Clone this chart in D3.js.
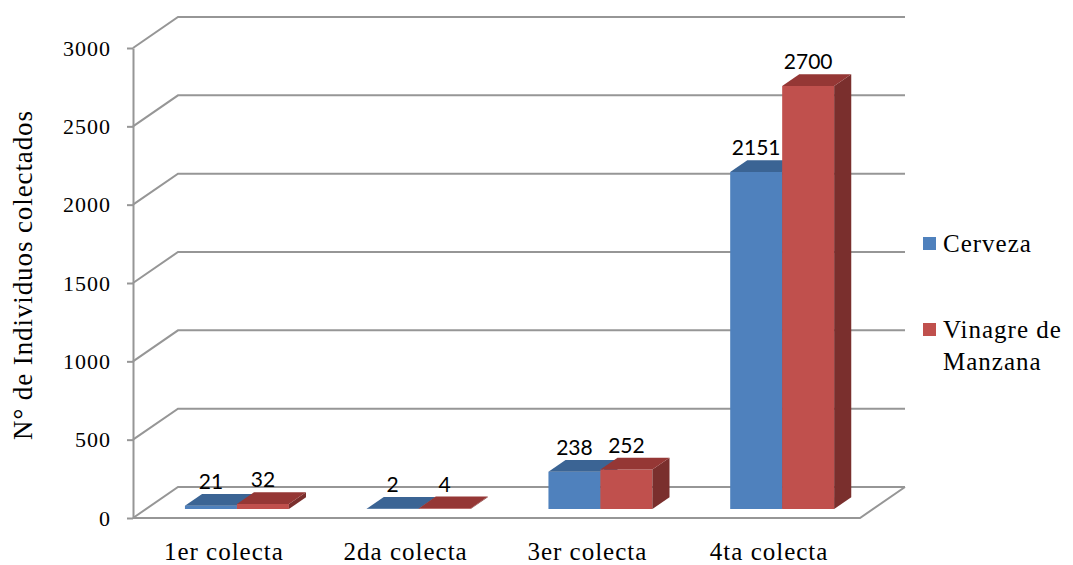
<!DOCTYPE html>
<html>
<head>
<meta charset="utf-8">
<script src="https://cdn.jsdelivr.net/npm/d3@7"></script>
<style>
  html, body { margin: 0; padding: 0; background: #fff; }
  svg { display: block; }
</style>
</head>
<body>
<svg id="chart" width="1073" height="565"></svg>
<script>
// Categories, series and values
const categories = ["1er colecta", "2da colecta", "3er colecta", "4ta colecta"];
const seriesNames = ["Cerveza", "Vinagre de Manzana"];
const cerveza = [21, 2, 238, 2151];
const vinagre = [32, 4, 252, 2700];
const yTicks = [0, 500, 1000, 1500, 2000, 2500, 3000];
const yTitle = "N° de Individuos colectados";

const seriesValues = [cerveza, vinagre];
const faceColors = [
  { front: "#4f81bd", top: "#3b6494", side: "#2c4d75" },
  { front: "#c0504d", top: "#953735", side: "#7a2f2d" }
];
const legendLabels = [["Cerveza"], ["Vinagre de", "Manzana"]];

const svg = d3.select("#chart");

// Plot box (front plane) and oblique depth offset
const plotLeft = 133, plotRight = 860, plotBottom = 518, plotTop = 48;
const DX = 45, DY = 31;          // offset of the back wall
const z0 = 0.29, z1 = 0.67;      // depth span of the columns

const x = d3.scaleBand().domain(categories).range([plotLeft, plotRight])
  .paddingInner(0.428).paddingOuter(0.214);
const xs = d3.scaleBand().domain(d3.range(seriesNames.length)).range([0, x.bandwidth()]);
const y = d3.scaleLinear().domain([0, 3000]).range([plotBottom, plotTop]);

const P = (px, v, z) => [px + z * DX, y(v) - z * DY];
const poly = pts => "M" + pts.map(p => p.join(",")).join("L") + "Z";

const gridColor = "#969696";

// Walls: side-wall diagonals and back-wall gridlines
const grid = svg.append("g").attr("fill", "none").attr("stroke", gridColor).attr("stroke-width", 2);
yTicks.forEach(t => {
  const a = P(plotLeft, t, 0), b = P(plotLeft, t, 1), c = P(plotRight, t, 1);
  grid.append("path").attr("d", `M${a}L${b}L${c}`);
});
// Floor outline
{
  const a = P(plotLeft, 0, 0), b = P(plotRight, 0, 0), c = P(plotRight, 0, 1);
  grid.append("path").attr("d", `M${a}L${b}L${c}`);
}

// Value axis on the front plane
const yAxis = svg.append("g")
  .attr("transform", `translate(${plotLeft},0)`)
  .call(d3.axisLeft(y).tickValues(yTicks).tickSize(6).tickSizeOuter(0).tickPadding(16).tickFormat(d3.format("d")));
yAxis.select(".domain").attr("stroke", gridColor).attr("stroke-width", 2);
yAxis.selectAll(".tick line").attr("stroke", gridColor).attr("stroke-width", 2);
yAxis.selectAll(".tick text")
  .attr("font-family", "'Liberation Serif', 'Times New Roman', serif")
  .attr("font-size", 22).attr("letter-spacing", "1px").attr("fill", "#000");

// Category axis
const xAxis = svg.append("g")
  .attr("transform", `translate(0,${plotBottom})`)
  .call(d3.axisBottom(x).tickSize(0).tickPadding(24));
xAxis.select(".domain").remove();
xAxis.selectAll(".tick text")
  .attr("font-family", "'Liberation Serif', 'Times New Roman', serif")
  .attr("font-size", 25).attr("letter-spacing", "1px").attr("fill", "#000");

// Columns
const bars = svg.append("g");
categories.forEach((cat, i) => {
  seriesValues.forEach((vals, j) => {
    const v = vals[i];
    const x0 = x(cat) + xs(j), x1 = x0 + xs.bandwidth();
    const col = faceColors[j];
    const g = bars.append("g");
    g.append("path").attr("fill", col.front)
      .attr("d", poly([P(x0, 0, z0), P(x1, 0, z0), P(x1, v, z0), P(x0, v, z0)]));
    g.append("path").attr("fill", col.side)
      .attr("d", poly([P(x1, 0, z0), P(x1, 0, z1), P(x1, v, z1), P(x1, v, z0)]));
    g.append("path").attr("fill", col.top)
      .attr("d", poly([P(x0, v, z0), P(x1, v, z0), P(x1, v, z1), P(x0, v, z1)]));
  });
});

// Data labels
const labels = svg.append("g")
  .attr("font-family", "Lato, 'Open Sans', sans-serif")
  .attr("font-size", 21).attr("fill", "#000").attr("text-anchor", "middle");
categories.forEach((cat, i) => {
  seriesValues.forEach((vals, j) => {
    const v = vals[i];
    const cx = x(cat) + xs(j) + xs.bandwidth() / 2;
    const front = P(cx, v, z0);
    const back = P(cx, v, z1);
    labels.append("text")
      .attr("x", front[0]).attr("y", back[1] - 5)
      .text(v);
  });
});

// Axis title
svg.append("text")
  .attr("transform", "translate(32,275) rotate(-90)")
  .attr("text-anchor", "middle")
  .attr("font-family", "'Liberation Serif', 'Times New Roman', serif")
  .attr("font-size", 27).attr("letter-spacing", "0.9px").attr("fill", "#000")
  .text(yTitle);

// Legend
const legend = svg.append("g")
  .attr("font-family", "'Liberation Serif', 'Times New Roman', serif")
  .attr("font-size", 25).attr("fill", "#000");
const legendRows = [252, 338];
seriesNames.forEach((name, j) => {
  const by = legendRows[j];
  legend.append("rect").attr("x", 923).attr("y", by - 15).attr("width", 13).attr("height", 13)
    .attr("fill", faceColors[j].front);
  const t = legend.append("text").attr("x", 943).attr("y", by).attr("letter-spacing", "1px");
  legendLabels[j].forEach((line, k) => {
    t.append("tspan").attr("x", 943).attr("dy", k === 0 ? 0 : 32).text(line);
  });
});
</script>
</body>
</html>
